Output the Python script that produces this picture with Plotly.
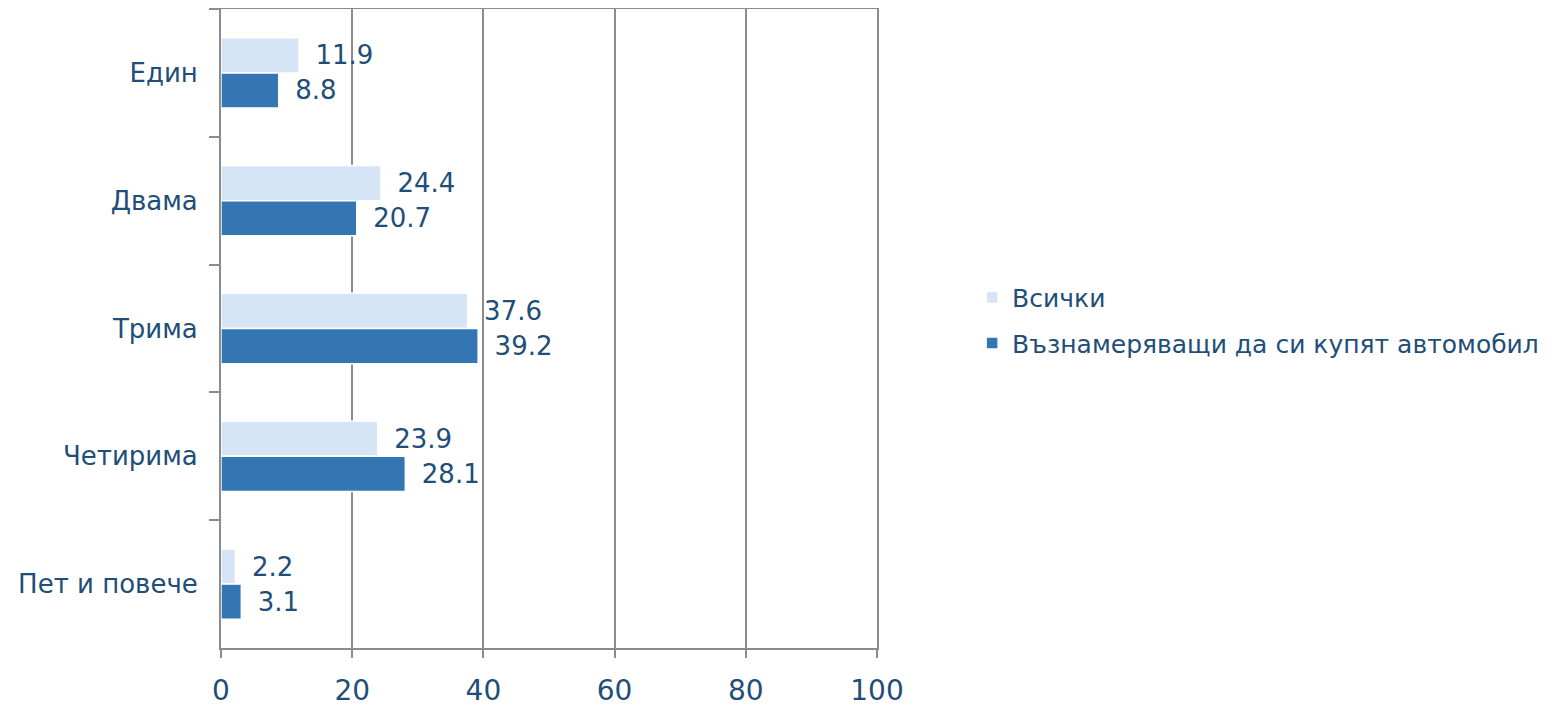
import plotly.graph_objects as go

categories = ["Един", "Двама", "Трима", "Четирима", "Пет и повече"]
series_names = ["Всички", "Възнамеряващи да си купят автомобил"]
vals_all = [11.9, 24.4, 37.6, 23.9, 2.2]
vals_buy = [8.8, 20.7, 39.2, 28.1, 3.1]
x_ticks = [0, 20, 40, 60, 80, 100]

TXT = "#1F4E79"
GRID = "#8C8C8C"
FONT = "DejaVu Sans, Verdana, sans-serif"

fig = go.Figure()
fig.add_trace(go.Bar(
    y=categories, x=vals_all, orientation="h", name=series_names[0],
    legendgroup="a",
    marker=dict(color="#D6E5F6", line=dict(color="white", width=1.5)),
    text=vals_all, texttemplate="\u00a0\u2009%{x:.1f}", textposition="outside",
    textfont=dict(color=TXT, size=26, family=FONT), cliponaxis=False,
))
fig.add_trace(go.Bar(
    y=categories, x=vals_buy, orientation="h", name=series_names[1],
    legendgroup="b",
    marker=dict(color="#3476B3", line=dict(color="white", width=1.5)),
    text=vals_buy, texttemplate="\u00a0\u2009%{x:.1f}", textposition="outside",
    textfont=dict(color=TXT, size=26, family=FONT), cliponaxis=False,
))

# page body has an 8px margin, so the figure is offset by (8, 8)
fig.update_layout(
    width=1556, height=699,
    margin=dict(l=213, r=687, t=1, b=59, autoexpand=False),
    barmode="group", bargap=0.45, bargroupgap=0,
    plot_bgcolor="white", paper_bgcolor="white",
    font=dict(family=FONT, size=26, color=TXT),
    legend=dict(
        x=1.145, y=0.513, xanchor="left", yanchor="middle",
        font=dict(size=25, color=TXT, family=FONT),
        itemwidth=30, tracegroupgap=10,
    ),
    showlegend=True,
)
fig.update_xaxes(
    range=[0, 100], tickvals=x_ticks, showgrid=True, gridcolor=GRID, gridwidth=2,
    showline=True, linecolor=GRID, linewidth=2, mirror=True,
    ticks="outside", ticklen=8, tickcolor=GRID, tickwidth=2,
    tickfont=dict(size=28, color=TXT, family=FONT), zeroline=False,
    ticklabelstandoff=8, automargin=False,
)
fig.update_yaxes(
    autorange="reversed", showgrid=False,
    showline=True, linecolor=GRID, linewidth=2, mirror=True,
    ticks="outside", ticklen=10, tickcolor=GRID, tickwidth=2, tickson="boundaries",
    tickfont=dict(size=26, color=TXT, family=FONT), ticklabelstandoff=16,
    automargin=False,
)

fig.write_html("out.html")
